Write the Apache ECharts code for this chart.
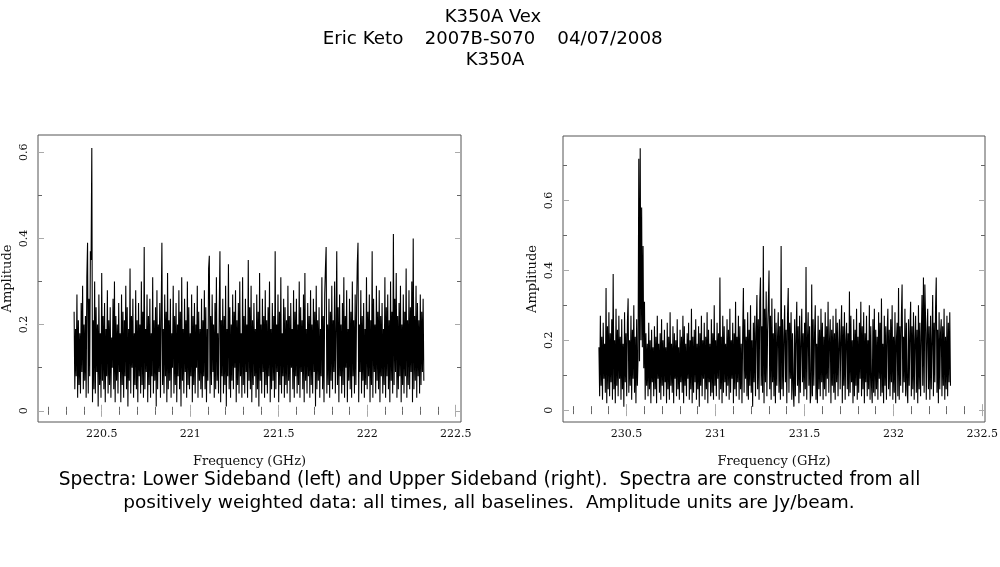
<!DOCTYPE html>
<html><head><meta charset="utf-8">
<script src="https://cdn.jsdelivr.net/npm/echarts@6/dist/echarts.min.js"></script>
<style>html,body{margin:0;padding:0;background:#fff}#c{width:1000px;height:567px}</style>
</head><body><div id="c"></div>
<script>
// Channel grids (GHz)
const lsbStart = 220.344, usbStart = 230.345, chanStep = 0.004;
// Lower sideband amplitudes (Jy/beam)
const lsbAmp = [
0.23,0.05,0.19,0.08,0.27,0.03,0.21,0.06,0.18,0.04,0.25,0.09,0.29,0.05,0.20,
0.07,0.22,0.03,0.31,0.39,0.04,0.26,0.08,0.37,0.35,0.61,0.02,0.21,0.05,0.30,
0.04,0.24,0.09,0.20,0.01,0.27,0.06,0.18,0.03,0.32,0.07,0.22,0.05,0.25,0.02,
0.19,0.08,0.28,0.04,0.21,0.06,0.24,0.03,0.17,0.10,0.26,0.05,0.30,0.02,0.22,
0.07,0.20,0.04,0.25,0.09,0.18,0.02,0.27,0.06,0.23,0.03,0.21,0.08,0.29,0.05,
0.24,0.01,0.19,0.07,0.33,0.04,0.22,0.10,0.26,0.03,0.18,0.06,0.28,0.05,0.21,
0.02,0.25,0.08,0.20,0.04,0.30,0.06,0.23,0.03,0.38,0.05,0.19,0.09,0.27,0.02,
0.22,0.06,0.26,0.03,0.18,0.08,0.31,0.04,0.21,0.07,0.24,0.01,0.28,0.05,0.20,
0.09,0.25,0.03,0.22,0.39,0.06,0.19,0.04,0.27,0.08,0.23,0.02,0.32,0.05,0.21,
0.07,0.26,0.03,0.18,0.10,0.29,0.04,0.22,0.06,0.25,0.02,0.20,0.08,0.28,0.05,
0.23,0.01,0.31,0.07,0.19,0.04,0.26,0.09,0.21,0.03,0.30,0.06,0.24,0.05,0.18,
0.08,0.27,0.02,0.22,0.06,0.25,0.04,0.20,0.10,0.29,0.03,0.23,0.07,0.19,0.05,
0.26,0.03,0.21,0.08,0.28,0.05,0.24,0.02,0.19,0.07,0.33,0.36,0.04,0.22,0.06,
0.27,0.09,0.20,0.03,0.25,0.05,0.31,0.07,0.18,0.04,0.23,0.37,0.02,0.21,0.08,
0.26,0.04,0.22,0.06,0.29,0.01,0.19,0.08,0.34,0.05,0.24,0.03,0.20,0.07,0.27,
0.05,0.23,0.10,0.28,0.02,0.21,0.06,0.25,0.04,0.30,0.08,0.18,0.03,0.31,0.06,
0.22,0.04,0.26,0.09,0.20,0.03,0.35,0.07,0.24,0.05,0.29,0.02,0.21,0.06,0.25,
0.08,0.19,0.03,0.27,0.05,0.23,0.01,0.32,0.07,0.20,0.04,0.26,0.09,0.22,0.03,
0.28,0.06,0.21,0.04,0.24,0.08,0.30,0.02,0.19,0.05,0.25,0.07,0.22,0.03,0.37,
0.05,0.20,0.09,0.27,0.02,0.23,0.06,0.31,0.04,0.18,0.08,0.26,0.03,0.24,0.06,
0.21,0.04,0.29,0.07,0.22,0.02,0.25,0.10,0.19,0.05,0.28,0.03,0.23,0.08,0.26,
0.04,0.20,0.06,0.30,0.03,0.24,0.09,0.21,0.05,0.27,0.02,0.32,0.07,0.19,0.04,
0.25,0.08,0.22,0.03,0.28,0.06,0.20,0.04,0.26,0.09,0.23,0.01,0.29,0.05,0.21,
0.07,0.24,0.03,0.19,0.08,0.31,0.05,0.22,0.02,0.27,0.33,0.38,0.04,0.20,0.06,
0.26,0.03,0.23,0.07,0.29,0.05,0.21,0.09,0.30,0.04,0.18,0.37,0.06,0.24,0.02,
0.27,0.08,0.20,0.04,0.25,0.06,0.31,0.03,0.22,0.10,0.28,0.02,0.19,0.07,0.26,
0.05,0.23,0.03,0.30,0.08,0.21,0.04,0.27,0.06,0.24,0.34,0.39,0.02,0.20,0.09,
0.28,0.04,0.22,0.07,0.25,0.03,0.19,0.06,0.31,0.05,0.23,0.08,0.27,0.02,0.21,
0.06,0.37,0.03,0.26,0.09,0.20,0.04,0.29,0.07,0.23,0.05,0.28,0.02,0.22,0.08,
0.25,0.04,0.19,0.06,0.31,0.03,0.24,0.08,0.27,0.05,0.21,0.02,0.30,0.07,0.23,
0.04,0.41,0.06,0.26,0.09,0.32,0.03,0.22,0.05,0.25,0.08,0.29,0.02,0.20,0.06,
0.27,0.04,0.23,0.08,0.33,0.03,0.21,0.06,0.28,0.05,0.24,0.09,0.30,0.02,0.40,
0.05,0.22,0.07,0.29,0.03,0.25,0.08,0.21,0.04,0.27,0.06,0.23,0.09,0.26,0.07
];
// Upper sideband amplitudes (Jy/beam)
const usbAmp = [
0.18,0.04,0.27,0.07,0.21,0.03,0.25,0.09,0.19,0.05,0.35,0.02,0.24,0.06,0.28,
0.04,0.22,0.08,0.26,0.03,0.39,0.06,0.20,0.02,0.29,0.07,0.23,0.04,0.27,0.09,
0.21,0.03,0.26,0.06,0.19,0.01,0.28,0.08,0.22,0.04,0.25,0.32,0.05,0.20,0.07,
0.27,0.03,0.23,0.09,0.30,0.05,0.21,0.02,0.26,0.07,0.15,0.72,0.14,0.75,0.20,
0.58,0.18,0.47,0.12,0.31,0.03,0.22,0.07,0.19,0.04,0.25,0.06,0.20,0.02,0.23,
0.08,0.18,0.04,0.24,0.06,0.21,0.02,0.27,0.09,0.19,0.05,0.22,0.03,0.26,0.07,
0.20,0.04,0.23,0.08,0.18,0.02,0.25,0.06,0.21,0.03,0.28,0.07,0.19,0.05,0.24,
0.02,0.22,0.09,0.20,0.04,0.26,0.06,0.18,0.03,0.23,0.08,0.21,0.05,0.27,0.02,
0.24,0.07,0.19,0.04,0.22,0.09,0.25,0.03,0.20,0.06,0.29,0.02,0.21,0.05,0.23,
0.08,0.26,0.03,0.19,0.06,0.24,0.01,0.22,0.07,0.27,0.04,0.20,0.09,0.25,0.03,
0.21,0.06,0.28,0.02,0.23,0.08,0.19,0.04,0.26,0.05,0.22,0.03,0.30,0.07,0.20,
0.04,0.25,0.09,0.22,0.03,0.38,0.06,0.21,0.02,0.27,0.05,0.24,0.08,0.19,0.04,
0.26,0.07,0.23,0.03,0.29,0.05,0.20,0.09,0.25,0.02,0.22,0.06,0.31,0.04,0.21,
0.08,0.27,0.03,0.24,0.06,0.19,0.02,0.22,0.35,0.05,0.26,0.09,0.21,0.04,0.28,
0.03,0.23,0.07,0.30,0.05,0.20,0.01,0.25,0.08,0.27,0.04,0.22,0.33,0.06,0.26,
0.03,0.31,0.38,0.07,0.24,0.05,0.47,0.02,0.29,0.08,0.34,0.04,0.23,0.30,0.40,
0.06,0.27,0.03,0.32,0.08,0.22,0.04,0.29,0.02,0.25,0.07,0.21,0.28,0.05,0.24,
0.03,0.47,0.06,0.26,0.04,0.21,0.30,0.08,0.23,0.02,0.27,0.35,0.05,0.25,0.09,
0.28,0.03,0.22,0.06,0.01,0.26,0.04,0.21,0.31,0.07,0.24,0.02,0.27,0.05,0.19,
0.29,0.08,0.22,0.04,0.25,0.06,0.41,0.03,0.20,0.28,0.07,0.24,0.02,0.05,0.36,
0.04,0.26,0.07,0.22,0.30,0.03,0.19,0.02,0.27,0.06,0.23,0.04,0.29,0.08,0.25,
0.03,0.21,0.06,0.28,0.04,0.24,0.09,0.31,0.05,0.20,0.26,0.02,0.23,0.07,0.27,
0.05,0.22,0.03,0.29,0.08,0.25,0.04,0.19,0.26,0.06,0.21,0.30,0.02,0.24,0.07,
0.28,0.03,0.20,0.25,0.06,0.22,0.04,0.34,0.05,0.27,0.08,0.20,0.02,0.26,0.04,
0.23,0.07,0.29,0.03,0.21,0.05,0.25,0.09,0.31,0.04,0.24,0.06,0.28,0.02,0.22,
0.08,0.27,0.04,0.20,0.06,0.30,0.03,0.24,0.07,0.02,0.26,0.05,0.29,0.04,0.23,
0.06,0.21,0.03,0.28,0.09,0.25,0.04,0.32,0.05,0.19,0.02,0.27,0.07,0.24,0.03,
0.22,0.29,0.06,0.23,0.04,0.26,0.08,0.30,0.03,0.21,0.05,0.28,0.02,0.20,0.25,
0.04,0.35,0.03,0.24,0.07,0.27,0.36,0.05,0.21,0.08,0.29,0.04,0.25,0.06,0.02,
0.26,0.07,0.22,0.31,0.04,0.24,0.06,0.28,0.03,0.20,0.27,0.05,0.23,0.02,0.30,
0.06,0.25,0.04,0.21,0.33,0.07,0.38,0.05,0.36,0.26,0.03,0.22,0.29,0.06,0.24,
0.03,0.27,0.06,0.20,0.33,0.04,0.25,0.08,0.29,0.38,0.05,0.23,0.02,0.28,0.06,
0.22,0.26,0.04,0.24,0.07,0.29,0.03,0.21,0.06,0.27,0.04,0.25,0.08,0.28,0.07
];
// Tick values
const lsbMajorX = [220.5, 221, 221.5, 222, 222.5];
const lsbMinorX = [220.2,220.3,220.4,220.6,220.7,220.8,220.9,221.1,221.2,221.3,221.4,221.6,221.7,221.8,221.9,222.1,222.2,222.3,222.4];
const usbMajorX = [230.5, 231, 231.5, 232, 232.5];
const usbMinorX = [230.2,230.3,230.4,230.6,230.7,230.8,230.9,231.1,231.2,231.3,231.4,231.6,231.7,231.8,231.9,232.1,232.2,232.3,232.4];
const yMajor = [0, 0.2, 0.4, 0.6];
const lsbMinorY = [0.1, 0.3, 0.5];
const usbMinorY = [0.1, 0.3, 0.5, 0.7];
const xTitle = 'Frequency (GHz)', yTitle = 'Amplitude';

const toPairs = (start, arr) => arr.map((v, i) => [+(start + i * chanStep).toFixed(4), v]);

const tickFont = {fontFamily: 'DejaVu Serif', fontSize: 11, color: '#111'};
const nameFont = {fontFamily: 'DejaVu Serif', fontSize: 13, color: '#111'};
function mkX(grid, min, max, major, minor) {
  const base = {type: 'value', gridIndex: grid, min, max, splitLine: {show: false}, axisLine: {show: false}};
  return [
    Object.assign({}, base, {position: 'bottom', name: xTitle, nameLocation: 'middle', nameGap: 33,
      nameTextStyle: nameFont,
      axisTick: {inside: true, length: 6, lineStyle: {color: '#aaa'}, customValues: major},
      axisLabel: Object.assign({margin: 7, customValues: major, formatter: v => String(v)}, tickFont)}),
    Object.assign({}, base, {position: 'bottom', axisLabel: {show: false},
      axisTick: {inside: true, length: 4, lineStyle: {color: '#666'}, customValues: minor}}),
    Object.assign({}, base, {position: 'top', axisLabel: {show: false},
      axisTick: {inside: true, length: 6, lineStyle: {color: '#aaa'}, customValues: major}}),
    Object.assign({}, base, {position: 'top', axisLabel: {show: false},
      axisTick: {inside: true, length: 4, lineStyle: {color: '#666'}, customValues: minor}})
  ];
}
function mkY(grid, min, max, major, minor) {
  const base = {type: 'value', gridIndex: grid, min, max, splitLine: {show: false}, axisLine: {show: false}};
  return [
    Object.assign({}, base, {position: 'left', name: yTitle, nameLocation: 'middle', nameGap: 23.5,
      nameTextStyle: nameFont,
      axisTick: {inside: true, length: 6, lineStyle: {color: '#aaa'}, customValues: major},
      axisLabel: Object.assign({margin: 8, rotate: 90, customValues: major, formatter: v => String(v)}, tickFont)}),
    Object.assign({}, base, {position: 'left', axisLabel: {show: false},
      axisTick: {inside: true, length: 4, lineStyle: {color: '#666'}, customValues: minor}}),
    Object.assign({}, base, {position: 'right', axisLabel: {show: false},
      axisTick: {inside: true, length: 6, lineStyle: {color: '#aaa'}, customValues: major}}),
    Object.assign({}, base, {position: 'right', axisLabel: {show: false},
      axisTick: {inside: true, length: 4, lineStyle: {color: '#666'}, customValues: minor}})
  ];
}

const chart = echarts.init(document.getElementById('c'), null, {renderer: 'canvas'});
const txt = (x, y, s, size) => ({type: 'text', x, y,
  style: {fontFamily: 'DejaVu Sans', fill: '#000', text: s, fontSize: size, textAlign: 'center', textVerticalAlign: 'middle'}});
chart.setOption({
  animation: false,
  backgroundColor: '#fff',
  grid: [
    {left: 38, right: 539, top: 135, bottom: 145, outerBoundsMode: 'none', containLabel: false,
      show: true, borderColor: '#555', borderWidth: 1, backgroundColor: 'transparent'},
    {left: 563, right: 15, top: 136, bottom: 145, outerBoundsMode: 'none', containLabel: false,
      show: true, borderColor: '#555', borderWidth: 1, backgroundColor: 'transparent'}
  ],
  xAxis: [].concat(mkX(0, 220.14, 222.53, lsbMajorX, lsbMinorX), mkX(1, 230.143, 232.515, usbMajorX, usbMinorX)),
  yAxis: [].concat(mkY(0, -0.026, 0.640, yMajor, lsbMinorY), mkY(1, -0.034, 0.785, yMajor, usbMinorY)),
  series: [
    {type: 'line', xAxisIndex: 0, yAxisIndex: 0, data: toPairs(lsbStart, lsbAmp), showSymbol: false,
      lineStyle: {color: '#000', width: 1.1}, silent: true},
    {type: 'line', xAxisIndex: 4, yAxisIndex: 4, data: toPairs(usbStart, usbAmp), showSymbol: false,
      lineStyle: {color: '#000', width: 1.1}, silent: true}
  ],
  graphic: [
    txt(493, 17, 'K350A Vex', 18),
    txt(363, 39, 'Eric Keto', 18.3),
    txt(480, 39, '2007B-S070', 18),
    txt(610, 39, '04/07/2008', 18.3),
    txt(495, 60, 'K350A', 18),
    txt(489.5, 480, 'Spectra: Lower Sideband (left) and Upper Sideband (right).  Spectra are constructed from all', 18.6),
    txt(489, 503, 'positively weighted data: all times, all baselines.  Amplitude units are Jy/beam.', 18.5)
  ]
});
</script></body></html>
